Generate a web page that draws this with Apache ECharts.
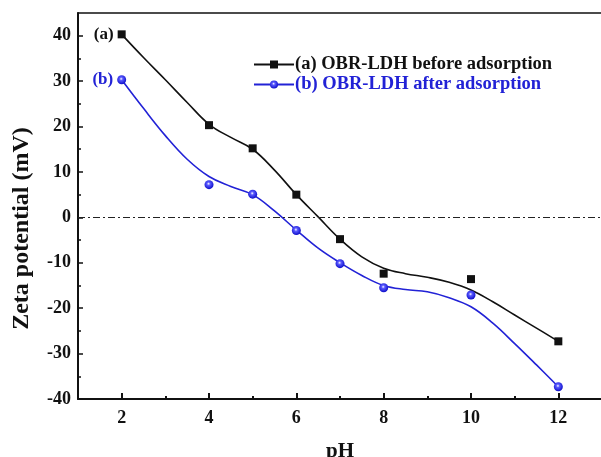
<!DOCTYPE html>
<html>
<head>
<meta charset="utf-8">
<script src="https://cdn.jsdelivr.net/npm/echarts@6/dist/echarts.min.js"></script>
<style>
html,body{margin:0;padding:0;background:#fff;}
#chart{width:601px;height:457px;}
</style>
</head>
<body>
<div id="chart"></div>
<script>
// measured points
const phPoints = [2, 4, 5, 6, 7, 8, 10, 12];
const zetaBefore = [40.3, 20.3, 15.2, 5.0, -4.8, -12.4, -13.6, -27.3];
const zetaAfter = [30.3, 7.2, 5.1, -2.9, -10.2, -15.5, -17.1, -37.3];
// fitted curves
const fitPh = [2, 2.5, 3, 3.5, 4, 4.5, 5, 5.5, 6, 6.5, 7, 7.5, 8, 8.5, 9, 9.5, 10, 10.5, 11, 11.5, 12];
const fitBefore = [40.3, 35.2, 30.3, 25.3, 20.5, 17.6, 15.0, 10.4, 5.0, 0.1, -4.8, -8.7, -11.2, -12.4, -13.2, -14.3, -16.0, -18.6, -21.5, -24.4, -27.3];
const fitAfter = [30.3, 24.0, 18.0, 12.8, 9.0, 6.8, 5.0, 1.4, -2.8, -6.8, -10.0, -12.8, -15.0, -15.9, -16.4, -17.7, -19.7, -23.3, -27.8, -32.5, -37.3];
// ticks
const xMajorTicks = [2, 4, 6, 8, 10, 12];
const xMinorTicks = [3, 5, 7, 9, 11];
const yMajorTicks = [-40, -30, -20, -10, 0, 10, 20, 30, 40];
const yMinorTicks = [-35, -25, -15, -5, 5, 15, 25, 35];
const seriesNames = ['(a) OBR-LDH before adsorption', '(b) OBR-LDH after adsorption'];
const curveTags = ['(a)', '(b)'];

const FONT = "'Liberation Serif','Times New Roman',serif";
const BLACK = '#111111';
const BLUE = '#2222d6';

const blueBall = {
  type: 'radial', x: 0.45, y: 0.4, r: 0.6,
  colorStops: [
    {offset: 0, color: '#ffffff'},
    {offset: 0.3, color: '#5a5aff'},
    {offset: 1, color: '#0c0cc8'}
  ]
};

function pts(xs, ys, tag, color) {
  return xs.map((x, i) => {
    const d = {value: [x, ys[i]]};
    if (i === 0) {
      d.label = {show: true, position: 'left', distance: 4, formatter: tag,
        color: color, fontFamily: FONT, fontWeight: 'bold', fontSize: 17};
    }
    return d;
  });
}
function line(xs, ys) { return xs.map((x, i) => [x, ys[i]]); }

const chart = echarts.init(document.getElementById('chart'));
const grid = {left: 78, top: 13, width: 524, height: 386, containLabel: false, outerBoundsMode: 'none'};
const axisLabelStyle = {color: BLACK, fontFamily: FONT, fontWeight: 'bold', fontSize: 18};

chart.setOption({
  animation: false,
  backgroundColor: '#ffffff',
  grid: grid,
  legend: {
    orient: 'vertical', left: 253, top: 55, padding: 0, itemWidth: 40, itemHeight: 10, itemGap: 1,
    textStyle: {fontFamily: FONT, fontWeight: 'bold', fontSize: 18.5, lineHeight: 18, padding: [0, 0, 0, -4]},
    data: [
      {name: seriesNames[0], textStyle: {color: BLACK}},
      {name: seriesNames[1], textStyle: {color: BLUE}}
    ]
  },
  xAxis: [
    {type: 'value', min: 1, max: 13, position: 'bottom',
      name: 'pH', nameLocation: 'middle', nameGap: 42,
      nameTextStyle: {color: BLACK, fontFamily: FONT, fontWeight: 'bold', fontSize: 21},
      axisLine: {show: true, onZero: false, lineStyle: {color: BLACK, width: 2}},
      axisTick: {show: true, inside: true, length: 6, customValues: xMajorTicks, lineStyle: {color: BLACK, width: 2}},
      axisLabel: {customValues: xMajorTicks, margin: 10, ...axisLabelStyle},
      splitLine: {show: false}},
    {type: 'value', min: 1, max: 13, position: 'bottom',
      axisLine: {show: false, onZero: false},
      axisTick: {show: true, inside: true, length: 3, customValues: xMinorTicks, lineStyle: {color: BLACK, width: 2}},
      axisLabel: {show: false}, splitLine: {show: false}},
    {type: 'value', min: 1, max: 13, position: 'top',
      axisLine: {show: true, onZero: false, lineStyle: {color: BLACK, width: 1.5}},
      axisTick: {show: false}, axisLabel: {show: false}, splitLine: {show: false}}
  ],
  yAxis: [
    {type: 'value', min: -40, max: 45, position: 'left',
      axisLine: {show: true, onZero: false, lineStyle: {color: BLACK, width: 2}},
      axisTick: {show: true, inside: true, length: 5, customValues: yMajorTicks, lineStyle: {color: BLACK, width: 1.5}},
      axisLabel: {customValues: yMajorTicks, margin: 7, ...axisLabelStyle},
      splitLine: {show: false}},
    {type: 'value', min: -40, max: 45, position: 'left',
      axisLine: {show: false, onZero: false},
      axisTick: {show: true, inside: true, length: 3, customValues: yMinorTicks, lineStyle: {color: BLACK, width: 1.5}},
      axisLabel: {show: false}, splitLine: {show: false}}
  ],
  graphic: [
    {type: 'text', left: 10, top: 'middle', rotation: Math.PI / 2,
      style: {text: 'Zeta potential (mV)', fill: BLACK, font: 'bold 24px ' + FONT}}
  ],
  series: [
    {name: seriesNames[0], type: 'line', data: line(fitPh, fitBefore), smooth: 0.4,
      symbol: 'rect', symbolSize: 8, showSymbol: false,
      itemStyle: {color: BLACK, opacity: 1}, lineStyle: {color: BLACK, width: 1.6},
      markLine: {silent: true, symbol: ['none', 'none'], label: {show: false},
        lineStyle: {color: '#222', width: 1, type: [7, 3, 2, 3]},
        data: [{yAxis: 0}]}},
    {name: seriesNames[1], type: 'line', data: line(fitPh, fitAfter), smooth: 0.4,
      symbol: 'circle', symbolSize: 9, showSymbol: false,
      itemStyle: {color: blueBall, opacity: 1}, lineStyle: {color: BLUE, width: 1.6}},
    {name: 'pts-a', type: 'scatter', data: pts(phPoints, zetaBefore, curveTags[0], BLACK),
      symbol: 'rect', symbolSize: 8, itemStyle: {color: BLACK, opacity: 1}, z: 5},
    {name: 'pts-b', type: 'scatter', data: pts(phPoints, zetaAfter, curveTags[1], BLUE),
      symbol: 'circle', symbolSize: 9, itemStyle: {color: blueBall, opacity: 1}, z: 5}
  ]
});
</script>
</body>
</html>
